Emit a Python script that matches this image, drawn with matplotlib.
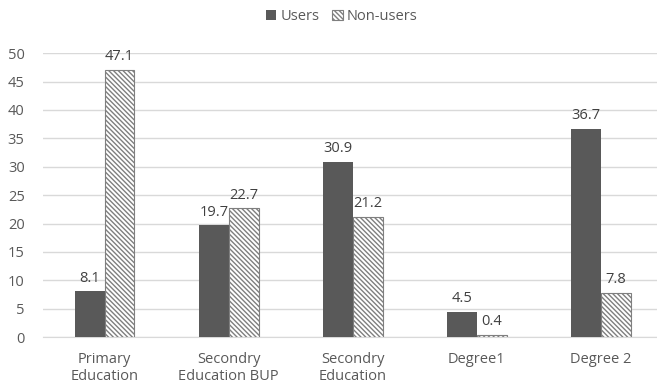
import matplotlib.pyplot as plt
import numpy as np

plt.rcParams['font.family'] = ['Open Sans', 'DejaVu Sans']
plt.rcParams['hatch.linewidth'] = 1.0
plt.rcParams['hatch.color'] = '#404040'

categories = ['Primary\nEducation', 'Secondry\nEducation BUP', 'Secondry\nEducation', 'Degree1', 'Degree 2']
users = [8.1, 19.7, 30.9, 4.5, 36.7]
non_users = [47.1, 22.7, 21.2, 0.4, 7.8]
yticks = [0, 5, 10, 15, 20, 25, 30, 35, 40, 45, 50]

txt = '#595959'
fs = 10.5
fig = plt.figure(figsize=(6.57, 3.88), dpi=100)
ax = fig.add_axes([0.065, 0.131, 0.944, 0.732])

x = np.arange(len(categories))
w = 0.24
b1 = ax.bar(x - w / 2, users, w, color='#595959', label='Users', zorder=3)
b2 = ax.bar(x + w / 2, non_users, w, color='white', edgecolor='#7f7f7f', linewidth=0.8,
            hatch='\\' * 7, label='Non-users', zorder=3)

for bars, vals in ((b1, users), (b2, non_users)):
    for r, v in zip(bars, vals):
        ax.annotate(f'{v}', (r.get_x() + r.get_width() / 2, v), xytext=(0, 4),
                    textcoords='offset points', ha='center', va='bottom',
                    fontsize=fs, color='#404040')

ax.set_xlim(-0.5, 4.5)
ax.set_ylim(0, 50)
ax.set_yticks(yticks)
ax.set_xticks(x)
ax.set_xticklabels(categories, linespacing=1.1)
ax.tick_params(axis='both', length=0, labelsize=fs, colors=txt)
ax.tick_params(axis='x', pad=11)
ax.tick_params(axis='y', pad=13)
ax.grid(axis='y', color='#d9d9d9', linewidth=1, zorder=0)
for s in ('top', 'right', 'left'):
    ax.spines[s].set_visible(False)
ax.spines['bottom'].set_color('#d9d9d9')

fig.legend(loc='upper center', bbox_to_anchor=(0.52, 1.01), ncol=2, frameon=False,
           fontsize=fs, labelcolor=txt, handlelength=0.7, handleheight=0.7,
           handletextpad=0.3, columnspacing=0.9)

fig.savefig('out.png', dpi=100)
